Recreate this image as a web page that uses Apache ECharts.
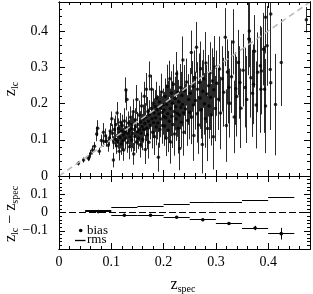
<!DOCTYPE html>
<html><head><meta charset="utf-8">
<script src="https://cdn.jsdelivr.net/npm/echarts@6/dist/echarts.min.js"></script>
<style>html,body{margin:0;padding:0;background:#fff}#c{width:313px;height:294px}</style>
</head><body><div id="c"></div>
<script>
// ---- top panel: photometric (light-curve) redshift vs spectroscopic redshift ----
const zSpec = [
0.037,0.047,0.056,0.058,0.061,0.064,0.068,0.072,0.074,0.077,0.081,0.085,0.086,0.089,0.091,0.094,0.096,0.098,
0.101,0.102,0.104,0.105,0.106,0.108,0.109,0.110,0.111,0.112,0.113,0.114,0.115,0.116,0.117,0.118,0.119,0.120,0.121,0.122,
0.123,0.124,0.125,0.126,0.127,0.128,0.129,0.130,0.131,0.132,0.133,0.134,0.135,0.136,0.137,0.138,0.139,0.140,0.141,0.142,
0.143,0.144,0.145,0.146,0.147,0.148,0.149,0.150,
0.151,0.152,0.153,0.154,0.155,0.156,0.157,0.158,0.159,0.160,0.161,0.162,0.163,0.164,0.165,0.166,0.167,0.168,0.169,0.170,
0.171,0.172,0.173,0.174,0.175,0.176,0.177,0.178,0.179,0.180,0.181,0.182,0.183,0.184,0.185,0.186,0.187,0.188,0.189,0.190,
0.191,0.192,0.193,0.194,0.195,0.196,0.197,0.198,0.199,0.200,
0.201,0.202,0.203,0.204,0.205,0.206,0.207,0.208,0.209,0.210,0.211,0.212,0.213,0.214,0.215,0.216,0.217,0.218,0.219,0.220,
0.221,0.222,0.223,0.224,0.225,0.226,0.227,0.228,0.229,0.230,0.231,0.232,0.233,0.234,0.235,0.236,0.237,0.238,0.239,0.240,
0.242,0.244,0.246,0.248,0.250,
0.251,0.253,0.254,0.256,0.257,0.258,0.260,0.261,0.263,0.264,0.265,0.267,0.268,0.270,0.271,0.272,0.274,0.275,0.277,0.278,
0.280,0.281,0.283,0.284,0.286,0.287,0.289,0.290,0.292,0.293,0.295,0.296,0.298,0.299,
0.302,0.305,0.307,0.309,0.312,0.315,0.318,0.320,0.322,0.325,0.327,0.330,0.333,0.335,0.338,0.340,0.343,0.346,0.348,
0.352,0.356,0.359,0.363,0.364,0.367,0.370,0.372,0.374,0.377,0.380,0.385,0.386,0.387,0.391,0.393,0.395,0.395,0.398,
0.404,0.405,0.405,0.414,0.425,0.473
];
const zLc = [
0.035,0.044,0.049,0.053,0.063,0.072,0.082,0.116,0.132,0.068,0.098,0.121,0.095,0.111,0.096,0.085,0.105,0.124,
0.158,0.118,0.044,0.092,0.128,0.101,0.142,0.083,0.174,0.112,0.095,0.131,0.068,0.119,0.106,0.148,0.088,0.124,0.139,0.097,
0.113,0.072,0.152,0.121,0.104,0.237,0.134,0.211,0.092,0.118,0.146,0.125,0.081,0.108,0.162,0.131,0.099,0.143,0.117,0.177,
0.061,0.128,0.109,0.155,0.136,0.094,0.211,0.122,
0.142,0.104,0.168,0.127,0.086,0.149,0.118,0.193,0.136,0.101,0.157,0.128,0.220,0.145,0.073,0.163,0.239,0.132,0.114,0.178,
0.151,0.093,0.169,0.276,0.139,0.186,0.239,0.158,0.121,0.201,0.147,0.174,0.108,0.192,0.161,0.135,0.215,0.183,0.146,0.052,
0.171,0.204,0.128,0.188,0.157,0.232,0.175,0.139,0.196,0.164,
0.182,0.138,0.219,0.161,0.105,0.197,0.247,0.172,0.126,0.208,0.151,0.268,0.186,0.094,0.229,0.165,0.201,0.142,0.253,0.178,
0.116,0.214,0.191,0.157,0.282,0.173,0.231,0.132,0.205,0.168,0.076,0.244,0.189,0.148,0.222,0.197,0.320,0.174,0.121,0.236,
0.185,0.259,0.153,0.211,0.176,
0.228,0.341,0.163,0.247,0.196,0.112,0.271,0.208,0.355,0.172,0.239,0.141,0.258,0.215,0.296,0.183,0.087,0.234,0.268,0.199,
0.158,0.312,0.226,0.131,0.249,0.193,0.284,0.217,0.169,0.262,0.108,0.238,0.301,0.186,
0.256,0.212,0.295,0.174,0.268,0.231,0.383,0.139,0.287,0.245,0.201,0.274,0.370,0.163,0.241,0.219,0.313,0.258,0.187,
0.292,0.244,0.211,0.378,0.400,0.271,0.228,0.253,0.344,0.196,0.286,0.304,0.239,0.290,0.350,0.239,0.193,0.438,0.359,
0.294,0.447,0.257,0.197,0.313,0.431
];
const zErr = [
0.006,0.007,0.008,0.010,0.009,0.012,0.012,0.020,0.022,0.010,0.016,0.025,0.014,0.020,0.015,0.018,0.020,0.022,
0.020,0.025,0.020,0.018,0.030,0.020,0.025,0.022,0.030,0.024,0.020,0.028,0.025,0.022,0.030,0.026,0.030,0.025,0.030,0.028,
0.020,0.030,0.035,0.026,0.030,0.035,0.030,0.030,0.028,0.024,0.032,0.030,0.035,0.026,0.030,0.028,0.032,0.030,0.040,0.035,
0.030,0.030,0.040,0.032,0.028,0.030,0.040,0.036,
0.035,0.030,0.040,0.032,0.035,0.030,0.040,0.038,0.035,0.030,0.040,0.036,0.040,0.035,0.040,0.038,0.045,0.036,0.040,0.040,
0.035,0.045,0.040,0.040,0.038,0.045,0.040,0.040,0.045,0.040,0.042,0.040,0.050,0.045,0.040,0.050,0.045,0.040,0.045,0.040,
0.050,0.045,0.050,0.040,0.050,0.050,0.045,0.050,0.045,0.050,
0.050,0.055,0.050,0.060,0.050,0.055,0.060,0.050,0.060,0.055,0.060,0.050,0.055,0.060,0.060,0.055,0.060,0.065,0.055,0.060,
0.060,0.060,0.065,0.060,0.060,0.065,0.060,0.070,0.060,0.065,0.060,0.065,0.060,0.070,0.065,0.060,0.065,0.070,0.065,0.070,
0.070,0.065,0.070,0.070,0.075,
0.070,0.060,0.075,0.070,0.080,0.070,0.075,0.080,0.070,0.080,0.075,0.080,0.080,0.085,0.075,0.080,0.080,0.085,0.080,0.085,
0.080,0.085,0.080,0.090,0.085,0.090,0.085,0.090,0.085,0.090,0.090,0.090,0.085,0.090,
0.090,0.085,0.090,0.100,0.090,0.095,0.080,0.100,0.090,0.100,0.095,0.100,0.090,0.100,0.100,0.110,0.090,0.100,0.110,
0.100,0.110,0.120,0.100,0.100,0.110,0.120,0.110,0.100,0.120,0.110,0.110,0.120,0.120,0.100,0.120,0.130,0.100,0.110,
0.120,0.120,0.130,0.140,0.120,0.035
];
// ---- bottom panel: binned bias and rms of z_lc - z_spec ----
const binLo   = [0.05, 0.10, 0.15, 0.20, 0.25, 0.30, 0.35, 0.40];
const binHi   = [0.10, 0.15, 0.20, 0.25, 0.30, 0.35, 0.40, 0.45];
const binMid  = [0.075, 0.125, 0.175, 0.225, 0.275, 0.325, 0.375, 0.425];
const bias    = [0.005, -0.015, -0.015, -0.026, -0.040, -0.060, -0.085, -0.116];
const biasErr = [0.003, 0.003, 0.003, 0.004, 0.005, 0.007, 0.012, 0.032];
const rms     = [0.010, 0.027, 0.031, 0.043, 0.057, 0.057, 0.065, 0.082];
const oneToOne = [[0, 0], [0.48, 0.48]];
const zeroLine = [[0, 0], [0.48, 0]];

const F = '"Liberation Serif", "Times New Roman", serif';
function fmt(v){ if (Math.abs(v) < 1e-9) return '0'; return (v < 0 ? '\u2212' : '') + Math.abs(v).toFixed(1); }
function ax(grid, pos, min, max, interval, len, label, isX, showMin){
  return {
    type:'value', gridIndex:grid, position:pos, min:min, max:max, interval:interval,
    axisLine:{show:true, onZero:false, lineStyle:{color:'#000', width:1}},
    axisTick:{show:true, inside:true, length:len, lineStyle:{color:'#000', width:1}},
    axisLabel:{show:label, showMinLabel:showMin, showMaxLabel:false, margin:isX ? 6 : 11,
      color:'#000', fontFamily:F, fontSize:14, formatter:fmt},
    splitLine:{show:false}, minorTick:{show:false}, z:5
  };
}
const xAxes = [
  ax(0,'bottom',0,0.48,0.1,6,false,true,true),
  ax(0,'bottom',0,0.48,0.02,3,false,true,true),
  ax(0,'top',0,0.48,0.1,6,false,true,true),
  ax(0,'top',0,0.48,0.02,3,false,true,true),
  ax(1,'bottom',0,0.48,0.1,6,true,true,true),
  ax(1,'bottom',0,0.48,0.02,3,false,true,true),
  ax(1,'top',0,0.48,0.1,6,false,true,true),
  ax(1,'top',0,0.48,0.02,3,false,true,true)
];
const yAxes = [
  ax(0,'left',0,0.48,0.1,6,true,false,true),
  ax(0,'left',0,0.48,0.02,3,false,false,true),
  ax(0,'right',0,0.48,0.1,6,false,false,true),
  ax(0,'right',0,0.48,0.02,3,false,false,true),
  ax(1,'left',-0.2,0.2,0.1,6,true,false,false),
  ax(1,'left',-0.2,0.2,0.02,3,false,false,false),
  ax(1,'right',-0.2,0.2,0.1,6,false,false,false),
  ax(1,'right',-0.2,0.2,0.02,3,false,false,false)
];
function px(v){ return Math.round(v - 0.5) + 0.5; }
const pts = zSpec.map((x, i) => [x, zLc[i], zErr[i]]);
const rich = {
  a:{fontFamily:F, fontSize:16, color:'#000'},
  b:{fontFamily:F, fontSize:10, color:'#000', padding:[9,0,0,0]}
};
const chart = echarts.init(document.getElementById('c'), null, {renderer:'canvas'});
chart.setOption({
  animation:false,
  backgroundColor:'#fff',
  grid:[
    {left:59, top:2, width:251, height:174},
    {left:59, top:176, width:251, height:73}
  ],
  xAxis:xAxes,
  yAxis:yAxes,
  series:[
    { type:'custom', xAxisIndex:0, yAxisIndex:0, data:pts, z:2,
      renderItem:function(params, api){
        const x = api.value(0), y = api.value(1), e = api.value(2);
        const p1 = api.coord([x, y - e]), p2 = api.coord([x, y + e]);
        const cs = params.coordSys;
        const clamp = v => Math.min(cs.y + cs.height, Math.max(cs.y, v));
        const xx = px(p1[0]);
        return {type:'line', shape:{x1:xx, y1:clamp(p1[1]), x2:xx, y2:clamp(p2[1])},
          style:{stroke:'#2a2a2a', lineWidth:1}};
      }
    },
    { type:'scatter', xAxisIndex:0, yAxisIndex:0, data:pts, symbolSize:3.5, z:3,
      itemStyle:{color:'#000'} },
    { type:'line', xAxisIndex:0, yAxisIndex:0, data:oneToOne, showSymbol:false, z:4,
      lineStyle:{color:'#b8b8b8', width:1.5, type:[6,4]} },
    { type:'line', xAxisIndex:4, yAxisIndex:4, data:zeroLine, showSymbol:false, z:2,
      lineStyle:{color:'#000', width:1, type:[7,3]} },
    { type:'custom', xAxisIndex:4, yAxisIndex:4, z:3,
      data:binLo.map((lo, i) => [lo, binHi[i], rms[i]]),
      renderItem:function(params, api){
        const a = api.coord([api.value(0), api.value(2)]);
        const b = api.coord([api.value(1), api.value(2)]);
        const yy = px(a[1]);
        return {type:'line', shape:{x1:a[0], y1:yy, x2:b[0], y2:yy}, style:{stroke:'#000', lineWidth:1}};
      }
    },
    { type:'custom', xAxisIndex:4, yAxisIndex:4, z:3,
      data:binMid.map((m, i) => [m, bias[i], biasErr[i], binLo[i], binHi[i]]),
      renderItem:function(params, api){
        const c = api.coord([api.value(0), api.value(1)]);
        const l = api.coord([api.value(3), api.value(1)]);
        const r = api.coord([api.value(4), api.value(1)]);
        const t = api.coord([api.value(0), api.value(1) + api.value(2)]);
        const d = api.coord([api.value(0), api.value(1) - api.value(2)]);
        const yy = px(c[1]), xx = px(c[0]);
        return {type:'group', children:[
          {type:'line', shape:{x1:l[0], y1:yy, x2:r[0], y2:yy}, style:{stroke:'#000', lineWidth:1}},
          {type:'line', shape:{x1:xx, y1:t[1], x2:xx, y2:d[1]}, style:{stroke:'#000', lineWidth:1}},
          {type:'circle', shape:{cx:c[0], cy:c[1], r:1.8}, style:{fill:'#000'}}
        ]};
      }
    }
  ],
  graphic:[
    {type:'circle', shape:{cx:80.7, cy:230.5, r:1.8}, style:{fill:'#000'}, z:10},
    {type:'text', x:87, y:230.5, z:10, style:{text:'bias', fontFamily:F, fontSize:13, fill:'#000', align:'left', verticalAlign:'middle'}},
    {type:'line', shape:{x1:75, y1:240.5, x2:85.5, y2:240.5}, style:{stroke:'#000', lineWidth:1.3}, z:10},
    {type:'text', x:87, y:240, z:10, style:{text:'rms', fontFamily:F, fontSize:13, fill:'#000', align:'left', verticalAlign:'middle'}},
    {type:'text', x:11, y:89, rotation:Math.PI/2, z:10,
      style:{text:'{a|z}{b|lc}', rich:rich, align:'center', verticalAlign:'middle'}},
    {type:'text', x:11, y:214, rotation:Math.PI/2, z:10,
      style:{text:'{a|z}{b|lc}{a| \u2212 z}{b|spec}', rich:rich, align:'center', verticalAlign:'middle'}},
    {type:'text', x:183, y:285, z:10,
      style:{text:'{a|z}{b|spec}', rich:rich, align:'center', verticalAlign:'middle'}}
  ]
});
</script>
</body></html>
